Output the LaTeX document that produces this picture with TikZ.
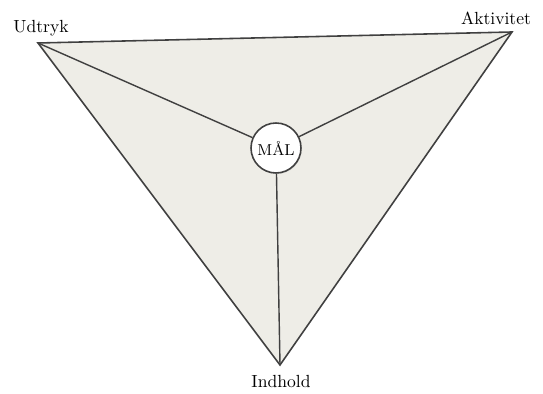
\documentclass[tikz,border=0pt]{standalone}
\usepackage{xcolor}
\usepackage{tikz}
\usetikzlibrary{shadows}

\definecolor{papir}{RGB}{238,237,231}

\begin{document}
\begin{tikzpicture}[x=0.02cm,y=0.02cm]
            \useasboundingbox (0,0) rectangle (543,394);
            % hjoerner
            \coordinate (u) at (38,351);
            \coordinate (a) at (512,362);
            \coordinate (i) at (280,29);
            
            \draw[fill=papir, line width=0.9pt, draw=black!75] (u) -- (a) -- (i) -- cycle;
            
            \node[circle, draw=black!75, line width=0.9pt, fill=white, minimum size=1cm, inner sep=0pt,
                  drop shadow={shadow xshift=0.4pt, shadow yshift=-0.6pt, opacity=0.25}] (maal) at (276,246) {\small M\AA L};
            
            \draw[line width=0.8pt, black!75] (u) -- (maal);
            \draw[line width=0.8pt, black!75] (a) -- (maal);
            \draw[line width=0.8pt, black!75] (i) -- (maal);
            
            \node (udtryk) at (41,366) {Udtryk};
            \node (aktivitet) at (496,376) {Aktivitet};
            \node (indhold) at (281,12) {Indhold};
\end{tikzpicture}
\end{document}
